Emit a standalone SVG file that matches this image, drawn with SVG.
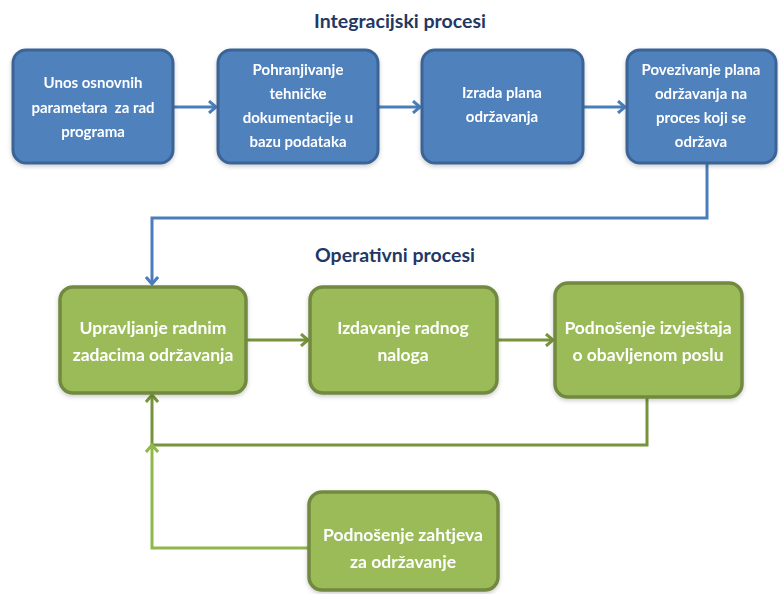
<svg xmlns="http://www.w3.org/2000/svg" width="779" height="594" viewBox="0 0 779 594">
<defs>
<style>
.bb{fill:#4f81bd;stroke:#3a6496;stroke-width:3}
.gb{fill:#9bbb59;stroke:#71893f;stroke-width:3.5}
.bt{font-family:Lato,"Open Sans",sans-serif;font-weight:bold;font-size:15px;fill:#fff;text-anchor:middle}
.gt{font-family:Lato,"Open Sans",sans-serif;font-weight:bold;font-size:17.5px;fill:#fff;text-anchor:middle}
.tt{font-family:Lato,"Open Sans",sans-serif;font-weight:bold;font-size:19.5px;fill:#1f3864;text-anchor:middle}
.bc{fill:none;stroke:#4a7ebb;stroke-width:3}
.gc{fill:none;stroke:#77933c;stroke-width:3}
.lc{fill:none;stroke:#8fb84a;stroke-width:3}
</style>
<marker id="ab" markerWidth="12" markerHeight="14" refX="9" refY="7" orient="auto" markerUnits="userSpaceOnUse"><path d="M2,1 L9,7 L2,13" fill="none" stroke="#4a7ebb" stroke-width="3"/></marker>
<marker id="ag" markerWidth="12" markerHeight="14" refX="9" refY="7" orient="auto" markerUnits="userSpaceOnUse"><path d="M2,1 L9,7 L2,13" fill="none" stroke="#77933c" stroke-width="3"/></marker>
<marker id="al" markerWidth="12" markerHeight="14" refX="9" refY="7" orient="auto" markerUnits="userSpaceOnUse"><path d="M2,1 L9,7 L2,13" fill="none" stroke="#8fb84a" stroke-width="3"/></marker>
<filter id="sh" x="-10%" y="-10%" width="120%" height="130%"><feDropShadow dx="0" dy="2" stdDeviation="2" flood-color="#000" flood-opacity="0.2"/></filter>
</defs>
<rect width="779" height="594" fill="#fff"/>
<text class="tt" x="400" y="28">Integracijski procesi</text>
<text class="tt" x="395" y="262">Operativni procesi</text>
<g id="connectors">
<path class="bc" d="M174,107 H216" marker-end="url(#ab)"/>
<path class="bc" d="M379,107 H420" marker-end="url(#ab)"/>
<path class="bc" d="M584,107 H625" marker-end="url(#ab)"/>
<path class="bc" d="M707,164 V218 H152 V284" marker-end="url(#ab)"/>
<path class="gc" d="M247,340 H308" marker-end="url(#ag)"/>
<path class="gc" d="M498,340 H553" marker-end="url(#ag)"/>
<path class="gc" d="M647,398 V445 H152 V395" marker-end="url(#ag)"/>
<path class="lc" d="M308,548 H152 V445" marker-end="url(#al)"/>
</g>
<g id="n1" filter="url(#sh)"><rect class="bb" x="13" y="50" width="160" height="113" rx="13"/>
<text class="bt" x="93" y="88">Unos osnovnih</text><text class="bt" x="93" y="113" xml:space="preserve">parametara  za rad</text><text class="bt" x="93" y="137">programa</text></g>
<g id="n2" filter="url(#sh)"><rect class="bb" x="218" y="50" width="160" height="113" rx="13"/>
<text class="bt" x="298" y="75">Pohranjivanje</text><text class="bt" x="298" y="99">tehničke</text><text class="bt" x="298" y="123">dokumentacije u</text><text class="bt" x="298" y="147">bazu podataka</text></g>
<g id="n3" filter="url(#sh)"><rect class="bb" x="422" y="50" width="161" height="113" rx="13"/>
<text class="bt" x="502" y="98">Izrada plana</text><text class="bt" x="502" y="122">održavanja</text></g>
<g id="n4" filter="url(#sh)"><rect class="bb" x="627" y="50" width="149" height="113" rx="13"/>
<text class="bt" x="701" y="75">Povezivanje plana</text><text class="bt" x="701" y="99">održavanja na</text><text class="bt" x="701" y="123">proces koji se</text><text class="bt" x="701" y="147">održava</text></g>
<g id="g1" filter="url(#sh)"><rect class="gb" x="60" y="287" width="186" height="106" rx="13"/>
<text class="gt" x="153" y="334">Upravljanje radnim</text><text class="gt" x="153" y="361">zadacima održavanja</text></g>
<g id="g2" filter="url(#sh)"><rect class="gb" x="310" y="287" width="187" height="106" rx="13"/>
<text class="gt" x="403" y="334">Izdavanje radnog</text><text class="gt" x="403" y="361">naloga</text></g>
<g id="g3" filter="url(#sh)"><rect class="gb" x="555" y="283" width="187" height="114" rx="13"/>
<text class="gt" x="648" y="334">Podnošenje izvještaja</text><text class="gt" x="648" y="361">o obavljenom poslu</text></g>
<g id="g4" filter="url(#sh)"><rect class="gb" x="309" y="492" width="189" height="98" rx="13"/>
<text class="gt" x="403" y="541">Podnošenje zahtjeva</text><text class="gt" x="403" y="568">za održavanje</text></g>
</svg>
